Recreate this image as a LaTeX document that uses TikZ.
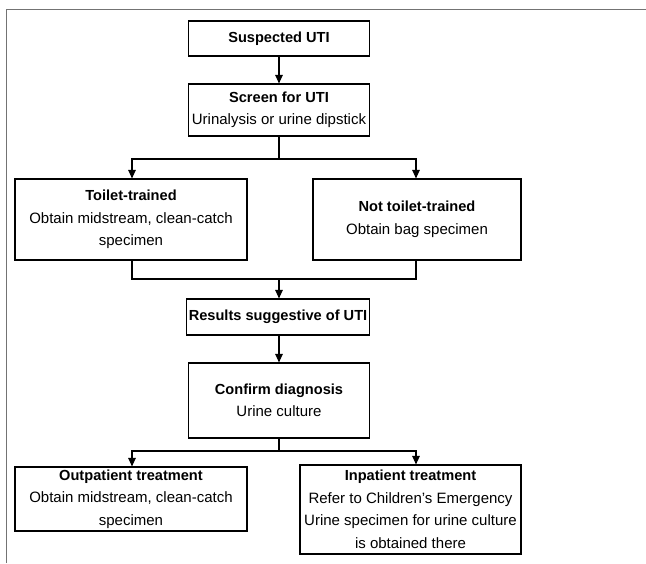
\documentclass[tikz,border=0pt]{standalone}
\usepackage{fontspec}
\setmainfont{Liberation Sans}
\usetikzlibrary{arrows.meta}
\newcommand{\ttl}[1]{{\fontsize{14.6}{22.5}\selectfont\bfseries #1}}
\begin{document}
\begin{tikzpicture}[x=1pt,y=-1pt,
  box/.style={draw=black,line width=1.1pt,align=center,inner sep=0pt,
    font=\fontsize{15}{22.5}\selectfont},
  conn/.style={line width=1.1pt},
  arr/.style={conn,-{Triangle[length=8.5pt,width=7.5pt]}}]
\useasboundingbox (0,0) rectangle (646,563);
\draw[black!55,line width=1pt] (6,563) -- (6,9) -- (646,9);
\node[box,minimum width=181pt,minimum height=35pt] (sus) at (279,38.5) {\ttl{Suspected UTI}};
\node[box,minimum width=181pt,minimum height=52pt] (scr) at (279,110) {\ttl{Screen for UTI}\\Urinalysis or urine dipstick};
\node[box,minimum width=232pt,minimum height=81pt] (tt) at (131,219.5) {\ttl{Toilet-trained}\\Obtain midstream, clean-catch\\specimen};
\node[box,minimum width=208pt,minimum height=81pt] (ntt) at (417,219.5) {\ttl{Not toilet-trained}\\Obtain bag specimen};
\node[box,minimum width=183pt,minimum height=36pt] (res) at (278,317) {\ttl{Results suggestive of UTI}};
\node[box,minimum width=181pt,minimum height=75pt] (con) at (279,400.5) {\ttl{Confirm diagnosis}\\Urine culture};
\node[box,minimum width=232pt,minimum height=64pt] (out) at (131,499) {\ttl{Outpatient treatment}\\Obtain midstream, clean-catch\\specimen};
\node[box,minimum width=221pt,minimum height=89pt] (inp) at (410.5,509.5) {\ttl{Inpatient treatment}\\Refer to Children’s Emergency\\Urine specimen for urine culture\\is obtained there};
\coordinate (L) at (132,0);
\coordinate (R) at (416,0);
\coordinate (C) at (279,0);
\coordinate (b1) at (279,159);
\coordinate (m1) at (279,279);
\coordinate (b2) at (279,451);
\draw[arr] (sus.south) -- (scr.north);
\draw[conn] (scr.south) -- (b1);
\draw[arr] (b1) -| (L |- tt.north);
\draw[arr] (b1) -| (R |- ntt.north);
\draw[conn] (L |- tt.south) |- (m1);
\draw[conn] (R |- ntt.south) |- (m1);
\draw[arr] (m1) -- (C |- res.north);
\draw[arr] (C |- res.south) -- (con.north);
\draw[conn] (con.south) -- (b2);
\draw[arr] (b2) -| (L |- out.north);
\draw[arr] (b2) -| (R |- inp.north);
\end{tikzpicture}
\end{document}
